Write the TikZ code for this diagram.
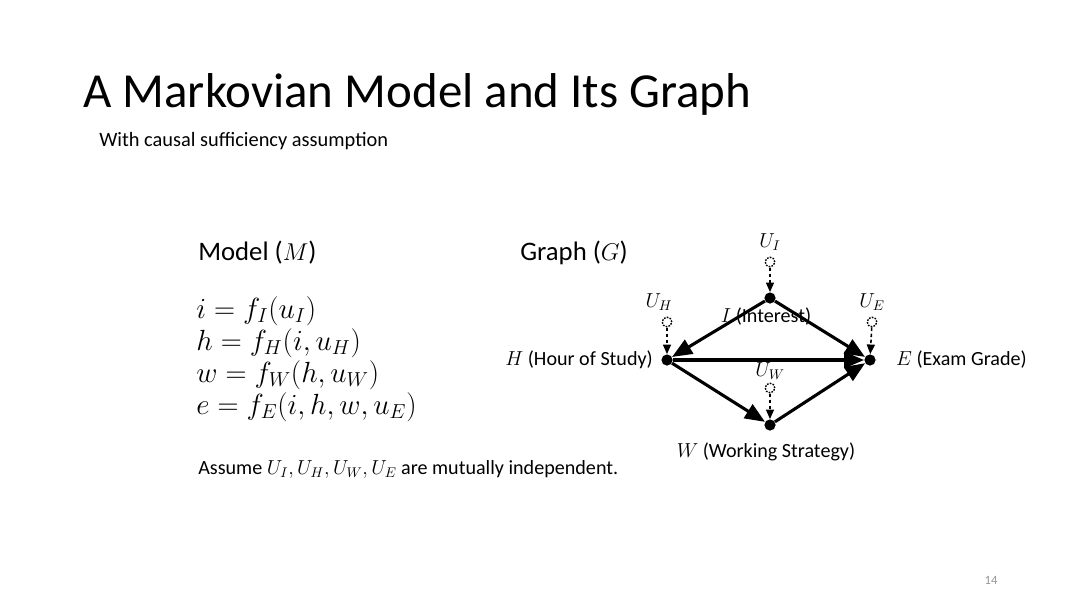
\documentclass[tikz,border=0pt]{standalone}
\usepackage{fontspec}
\setmainfont{Carlito}
\usetikzlibrary{arrows.meta,positioning}
\definecolor{SlideGray}{RGB}{150,150,150}
\tikzset{
  vardot/.style={circle, fill=black, inner sep=0pt, minimum size=2.8mm},
  exocirc/.style={circle, draw=black, dash pattern=on 1.2pt off 0.9pt, fill=white,
                  line width=1pt, inner sep=0pt, minimum size=2.4mm},
  seta/.style={-{Triangle[length=5mm,width=4mm]}, line width=2.2pt},
  setaexo/.style={-{Triangle[length=2.4mm,width=2mm]}, line width=1.1pt,
                  dash pattern=on 2.5pt off 1.8pt},
  rotulo/.style={font=\fontsize{14.3}{17}\selectfont, inner sep=0pt},
  eqn/.style={font=\fontsize{20}{24}\selectfont, anchor=base west, inner sep=0pt},
}

\begin{document}
\begin{tikzpicture}[x=0.025cm, y=-0.025cm]
  \useasboundingbox[fill=white] (0,0) rectangle (1080,607);

  % Titulo
  \node[anchor=base west, inner sep=0pt, font=\fontsize{34.8}{40}\selectfont] (titulo) at (83,107)
    {A Markovian Model and Its Graph};
  \node[anchor=base west, inner sep=0pt, font=\fontsize{14.5}{17}\selectfont] (sub) at (99,146)
    {With causal sufficiency assumption};

  % Modelo
  \node[anchor=base west, inner sep=0pt, font=\fontsize{19}{23}\selectfont] (model) at (198,260)
    {Model ($M$)};
  \node[eqn] (eq1) at (196,318) {$i = f_I(u_I)$};
  \node[eqn] (eq2) at (196,350) {$h = f_H(i,u_H)$};
  \node[eqn] (eq3) at (196,382) {$w = f_W(h,u_W)$};
  \node[eqn] (eq4) at (196,414) {$e = f_E(i,h,w,u_E)$};
  \node[rotulo, anchor=base west] (assume) at (198,474)
    {Assume $U_I, U_H, U_W, U_E$ are mutually independent.};

  % Grafo
  \node[anchor=base west, inner sep=0pt, font=\fontsize{19}{23}\selectfont] (graph) at (520,260)
    {Graph ($G$)};

  \node[vardot] (I) at (770,298) {};
  \node[vardot] (H) at (667,360) {};
  \node[vardot] (E) at (870,360) {};
  \node[vardot] (W) at (770,425) {};

  \node[exocirc] (UI) at (770,262) {};
  \node[exocirc] (UH) at (667,322) {};
  \node[exocirc] (UE) at (872,322) {};
  \node[exocirc] (UW) at (770,388) {};

  \node[rotulo, above=1.5mm of UI] (lUI) {$U_I$};
  \node[rotulo, above=1.5mm of UH, xshift=-2mm] (lUH) {$U_H$};
  \node[rotulo, above=1.5mm of UE] (lUE) {$U_E$};
  \node[rotulo, above=0.6mm of UW] (lUW) {$U_W$};

  \node[rotulo, below=1mm of I, xshift=-1mm] (lI) {$I$ (Interest)};
  \node[rotulo, left=2mm of H] (lH) {$H$ (Hour of Study)};
  \node[rotulo, right=5mm of E] (lE) {$E$ (Exam Grade)};
  \node[rotulo, below=3mm of W, xshift=-1mm] (lW) {$W$ (Working Strategy)};

  \draw[seta] (I) -- (H);
  \draw[seta] (I) -- (E);
  \draw[seta] (H) -- (E);
  \draw[seta] (H) -- (W);
  \draw[seta] (W) -- (E);

  \draw[setaexo] (UI) -- (I);
  \draw[setaexo] (UH) -- (H);
  \draw[setaexo] (UE) -- (E);
  \draw[setaexo] (UW) -- (W);

  % Numero
  \node[anchor=base, inner sep=0pt, font=\fontsize{9}{11}\selectfont, text=SlideGray] (num) at (991,584) {14};
\end{tikzpicture}
\end{document}
